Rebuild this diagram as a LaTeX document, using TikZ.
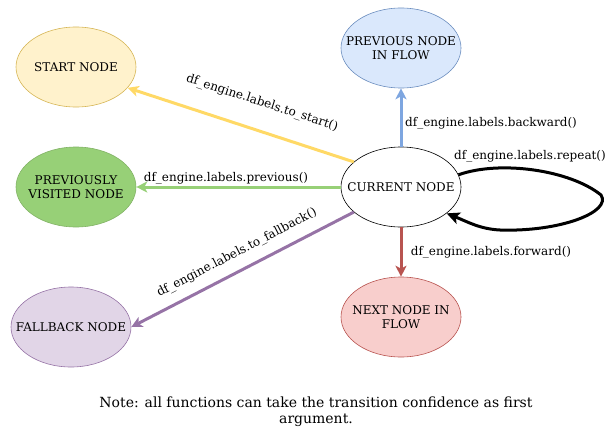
\documentclass[tikz,border=0pt]{standalone}
\usepackage{fontspec}
\setmainfont{DejaVu Serif}
\usetikzlibrary{shapes.geometric,arrows.meta}
\definecolor{yfill}{HTML}{FFF2CC}\definecolor{ydraw}{HTML}{D6B656}
\definecolor{bfill}{HTML}{DAE8FC}\definecolor{bdraw}{HTML}{6C8EBF}
\definecolor{gfill}{HTML}{97D077}\definecolor{gdraw}{HTML}{82B366}
\definecolor{pfill}{HTML}{E1D5E7}\definecolor{pdraw}{HTML}{9673A6}
\definecolor{rfill}{HTML}{F8CECC}\definecolor{rdraw}{HTML}{B85450}
\definecolor{yedge}{HTML}{FFD966}\definecolor{bedge}{HTML}{7EA6E0}
\definecolor{gedge}{HTML}{97D077}\definecolor{pedge}{HTML}{9673A6}
\definecolor{redge}{HTML}{B85450}
\newcommand{\ctext}[1]{\makebox[0pt][c]{\smash{\raisebox{-4.8pt}{\begin{tabular}{@{}c@{}}#1\end{tabular}}}}}
\tikzset{
  state/.style={ellipse, minimum width=120pt, minimum height=80pt, inner sep=0pt,
    font=\fontsize{12}{14.5}\selectfont, line width=0.6pt},
  trans/.style={line width=3pt, -{Stealth[length=11pt,width=11pt,inset=3pt]}},
  elabel/.style={font=\fontsize{12}{13}\selectfont, inner sep=0pt}
}
\begin{document}
\begin{tikzpicture}[x=1pt,y=-1pt]
\useasboundingbox (0,0) rectangle (607,444);
\node[state, fill=yfill, draw=ydraw] (start) at (76,67) {\ctext{START NODE}};
\node[state, fill=bfill, draw=bdraw] (prevflow) at (401,48) {\ctext{PREVIOUS NODE\\IN FLOW}};
\node[state, fill=gfill, draw=gdraw] (visited) at (76,187) {\ctext{PREVIOUSLY\\VISITED NODE}};
\node[state, fill=white, draw=black] (cur) at (401,187) {\ctext{CURRENT NODE}};
\node[state, fill=pfill, draw=pdraw] (fallback) at (71,327) {\ctext{FALLBACK NODE}};
\node[state, fill=rfill, draw=rdraw] (next) at (401,317) {\ctext{NEXT NODE IN\\FLOW}};

\draw[trans, draw=yedge] (cur.152) -- (start.-22);
\draw[trans, draw=bedge] (cur.north) -- (prevflow.south);
\draw[trans, draw=gedge] (cur.west) -- (visited.east);
\draw[trans, draw=pedge] (cur.-152) -- (fallback.east);
\draw[trans, draw=redge] (cur.south) -- (next.north);
\draw[line width=3pt, -{Stealth[length=13pt,width=12pt,inset=3pt]}]
  (cur.12) .. controls (500,160) and (570,170) .. (601,195)
  .. controls (612,212) and (560,232) .. (500,230)
  .. controls (480,229) and (468,222) .. (cur.-30);

\node[elabel, rotate=-18] (lstart) at (262,103) {df\_engine.labels.to\_start()};
\node[elabel] (lback) at (491,123) {df\_engine.labels.backward()};
\node[elabel] (lprev) at (226,178) {df\_engine.labels.previous()};
\node[elabel] (lrep) at (530,156) {df\_engine.labels.repeat()};
\node[elabel, rotate=27.5] (lfall) at (237,253) {df\_engine.labels.to\_fallback()};
\node[elabel] (lfwd) at (491,252) {df\_engine.labels.forward()};
\node[align=center, font=\fontsize{14}{16}\selectfont, inner sep=0pt] (note) at (316,412)
  {Note: all functions can take the transition confidence as first\\argument.};
\end{tikzpicture}
\end{document}
